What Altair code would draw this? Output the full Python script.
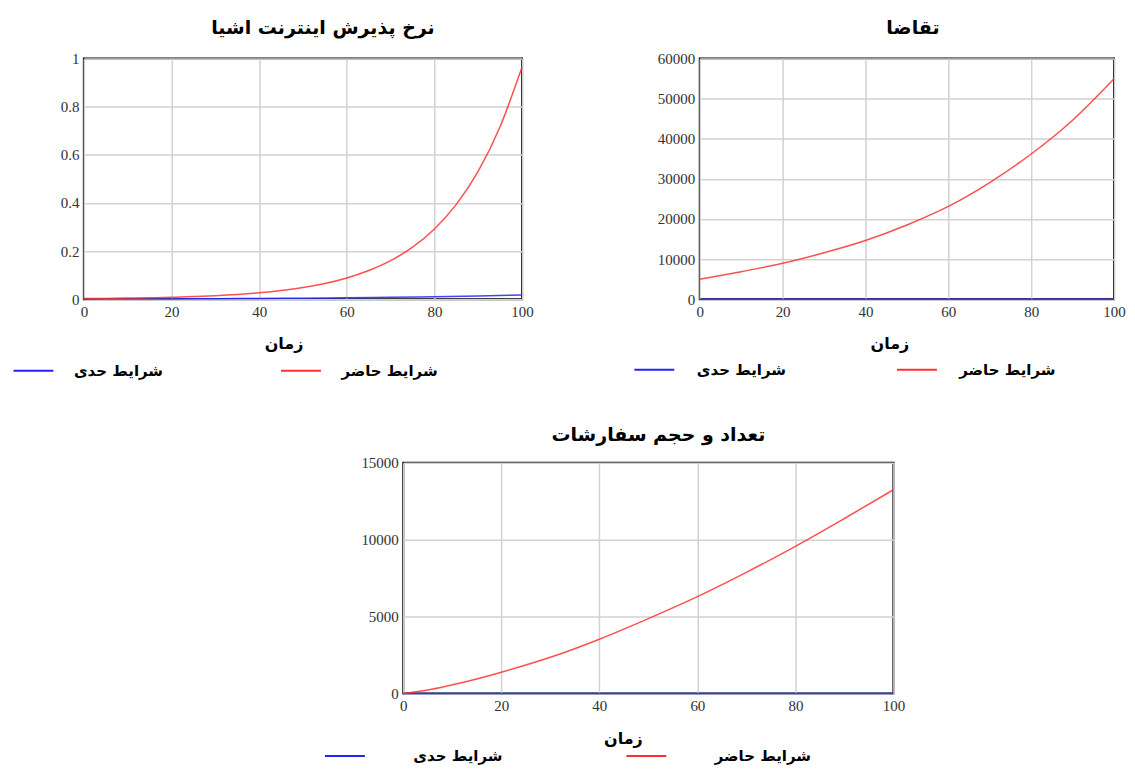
import altair as alt
import pandas as pd

# ---------------- data ----------------
series_names = ["شرایط حدی", "شرایط حاضر"]
series_colors = ["#2222ff", "#ff3030"]

time_fine = [0, 5, 10, 15, 20, 25, 30, 35, 40, 45, 50, 55, 60, 65, 70, 75, 80, 85, 90, 95, 100]
time_coarse = [0, 10, 20, 30, 40, 50, 60, 70, 80, 90, 100]
time_orders = [0, 5, 10, 15, 20, 30, 40, 50, 60, 70, 80, 90, 100]

adoption_current = [0.0024, 0.0032, 0.0044, 0.0059, 0.008, 0.0108, 0.0145, 0.0196, 0.0265, 0.0358,
                    0.048, 0.065, 0.088, 0.119, 0.16, 0.216, 0.292, 0.394, 0.532, 0.718, 0.965]
adoption_extreme = [0.0, 0.0005, 0.001, 0.002, 0.003, 0.004, 0.0055, 0.0075, 0.010, 0.013, 0.017]

demand_current = [4960, 6860, 8930, 11570, 14630, 18510, 23140, 29090, 36200, 44630, 54960]
demand_extreme = [0, 0, 0, 0, 0, 0, 0, 0, 0, 0, 0]

orders_current = [0, 220, 560, 940, 1380, 2350, 3530, 4870, 6300, 7880, 9570, 11380, 13250]
orders_extreme = [0, 0, 0, 0, 0, 0, 0, 0, 0, 0, 0]

titles = ["نرخ پذیرش اینترنت اشیا", "تقاضا", "تعداد و حجم سفارشات"]
x_title = "زمان"
x_ticks = [0, 20, 40, 60, 80, 100]
adoption_ticks = [0, 0.2, 0.4, 0.6, 0.8, 1]
demand_ticks = [0, 10000, 20000, 30000, 40000, 50000, 60000]
orders_ticks = [0, 5000, 10000, 15000]

PERSIAN = "DejaVu Sans"
SERIF = "Liberation Serif"


def long_df(t_cur, cur, t_ext, ext):
    rows = [{"t": t, "v": v, "s": series_names[0]} for t, v in zip(t_ext, ext)]
    rows += [{"t": t, "v": v, "s": series_names[1]} for t, v in zip(t_cur, cur)]
    return pd.DataFrame(rows)


def panel(df, title, w, h, ymax, yticks, yfmt, title_dx, title_dy, title_offset,
          xt_x, xt_y, lx, ly, loff, lcp):
    return alt.Chart(df).mark_line(strokeWidth=1.5, interpolate="monotone", opacity=0.85).encode(
        x=alt.X("t:Q", scale=alt.Scale(domain=[0, 100], nice=False, zero=False),
                axis=alt.Axis(values=x_ticks, title=x_title, titleX=xt_x, titleY=xt_y,
                              titleAlign="center", titleBaseline="middle",
                              labelFlush=False, format="d")),
        y=alt.Y("v:Q", scale=alt.Scale(domain=[0, ymax], nice=False),
                axis=alt.Axis(values=yticks, format=yfmt, title=None)),
        color=alt.Color("s:N", scale=alt.Scale(domain=series_names, range=series_colors),
                        legend=alt.Legend(orient="none", legendX=lx, legendY=ly,
                                          direction="horizontal", title=None,
                                          symbolType="M-4,0H4", symbolSize=100,
                                          symbolStrokeWidth=2, symbolOpacity=1,
                                          labelFont=PERSIAN, labelFontSize=15,
                                          labelFontWeight="bold", labelColor="black",
                                          labelOffset=loff, columnPadding=lcp, padding=0)),
    ).properties(
        width=w, height=h,
        title=alt.TitleParams(title, font=PERSIAN, fontSize=19, fontWeight="bold",
                              color="black", anchor="middle", dx=title_dx, dy=title_dy,
                              offset=title_offset, baseline="alphabetic"),
    )


p1 = panel(long_df(time_fine, adoption_current, time_coarse, adoption_extreme),
           titles[0], 439, 241, 1, adoption_ticks, "~g", 20, 26, 25,
           200, 44, -58, 305, 33, 113)
p2 = panel(long_df(time_coarse, demand_current, time_coarse, demand_extreme),
           titles[1], 415, 241, 60000, demand_ticks, "d", 6, 26, 25,
           190, 44, -53, 304, 35, 106)
p3 = panel(long_df(time_orders, orders_current, time_coarse, orders_extreme),
           titles[2], 491, 231, 15000, orders_ticks, "d", 10, 23, 19,
           220, 45, -66, 286, 61, 119)

spacer = alt.Chart(pd.DataFrame({"t": [0.5], "v": [0.5]})).mark_point(opacity=0, size=1).encode(
    x=alt.X("t:Q", axis=None, scale=alt.Scale(domain=[0, 1])),
    y=alt.Y("v:Q", axis=None, scale=alt.Scale(domain=[0, 1])),
).properties(width=150, height=231, view=alt.ViewBackground(stroke="transparent"))

row1 = alt.hconcat(p1, p2, spacing=178, bounds="flush").resolve_scale(
    color="independent").resolve_legend(color="independent")
row2 = alt.hconcat(spacer, p3, spacing=170, bounds="flush").resolve_scale(
    color="independent").resolve_legend(color="independent")

chart = alt.vconcat(row1, row2, spacing=45).resolve_scale(
    color="independent").resolve_legend(color="independent").properties(
    padding={"left": 17, "top": 9, "right": 0, "bottom": 0},
    background="white",
).configure_view(
    stroke="black", strokeWidth=2
).configure_axis(
    grid=True, gridColor="#d2d2d2", gridWidth=1.5, domain=False, ticks=False,
    labelFont=SERIF, labelFontSize=15, labelColor="#333333", labelPadding=5,
    titleFont=PERSIAN, titleFontSize=16, titleFontWeight="bold", titleColor="black",
)

chart.save("out.html", embed_options={"renderer": "svg", "actions": False})
